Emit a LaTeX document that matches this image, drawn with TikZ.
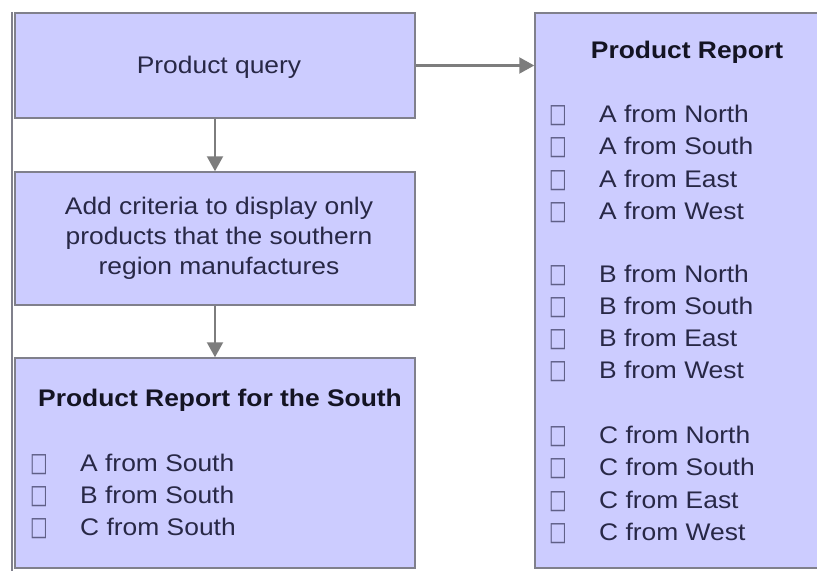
\documentclass[tikz,border=0pt]{standalone}
\usepackage{fontspec}
\usepackage{graphicx}
\setmainfont[FakeStretch=1.1]{Liberation Sans}
\newfontfamily\symfont{DejaVu Sans}
\usetikzlibrary{arrows.meta}
\definecolor{boxfill}{RGB}{204,204,255}
\definecolor{boxline}{RGB}{128,128,140}
\definecolor{arrowcol}{RGB}{125,125,125}
\definecolor{bodytext}{RGB}{40,40,70}
\definecolor{titletext}{RGB}{20,20,35}
\definecolor{chkcol}{RGB}{95,95,135}
\newcommand{\chkbox}{\scalebox{0.78}[1.1]{□}}
\tikzset{
  panel/.style={draw=boxline, fill=boxfill, line width=1.5pt, inner sep=0pt},
  flow/.style={draw=arrowcol, line width=2.2pt, -{Triangle[length=15pt,width=16pt]}},
  body/.style={inner sep=0pt, text=bodytext, font=\fontsize{24}{30}\selectfont},
  title/.style={inner sep=0pt, text=titletext, font=\fontsize{24}{30}\selectfont\bfseries},
  chk/.style={inner sep=0pt, text=chkcol, font=\fontsize{24}{30}\symfont},
}
\begin{document}
\begin{tikzpicture}[x=1pt,y=-1pt]
\useasboundingbox (0,0) rectangle (817,571);
\fill[white] (0,0) rectangle (817,571);
% left frame line
\coordinate (lt) at (12,12);
\coordinate (lb) at (12,571);
\draw[boxline, line width=2.5pt] (lt) -- (lb);
% boxes
\node[panel, minimum width=400pt, minimum height=105pt] (q) at (215,65.5) {};
\node[panel, minimum width=400pt, minimum height=133pt] (c) at (215,238.5) {};
\node[panel, minimum width=400pt, minimum height=210pt] (s) at (215,463) {};
\node[panel, minimum width=305pt, minimum height=555pt] (r) at (687.5,290.5) {};
% arrows
\draw[flow] (q.south) -- (c.north);
\draw[flow] (c.south) -- (s.north);
\draw[flow] (q.east) -- (q.east -| r.west);
% texts
\node[body, anchor=base] (qt) at (219,73.5) {Product query};
\node[body, anchor=base] (ct1) at (219,214) {Add criteria to display only};
\node[body, anchor=base] (ct2) at (219,244) {products that the southern};
\node[body, anchor=base] (ct3) at (219,274) {region manufactures};
\node[title, anchor=base] (st) at (220,406.5) {Product Report for the South};
\foreach \y/\t [count=\i] in {471.6/A from South,503.6/B from South,535.6/C from South}{
  \node[chk, anchor=base] (sc\i) at (39,\y) {\chkbox};
  \node[body, anchor=base west] (si\i) at (80,\y) {\t};
}
\node[title, anchor=base] (rt) at (687,58.6) {Product Report};
\foreach \y/\t [count=\i] in {122.5/A from North,154.8/A from South,187.1/A from East,219.4/A from West,
  282/B from North,314.3/B from South,346.6/B from East,378.9/B from West,
  443.5/C from North,475.8/C from South,508.1/C from East,540.4/C from West}{
  \node[chk, anchor=base] (rc\i) at (558,\y) {\chkbox};
  \node[body, anchor=base west] (ri\i) at (599,\y) {\t};
}
\end{tikzpicture}
\end{document}
